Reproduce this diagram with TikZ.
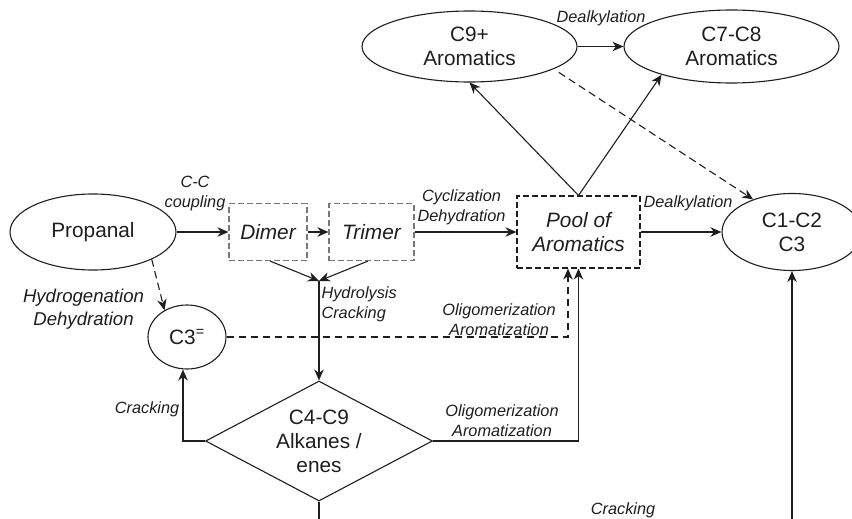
\documentclass[tikz,border=0pt]{standalone}
\usepackage{fontspec}
\setmainfont{Liberation Sans}
\usetikzlibrary{shapes.geometric,arrows.meta}
\definecolor{ink}{RGB}{30,30,30}
\definecolor{boxgray}{RGB}{120,120,120}
\begin{document}
\begin{tikzpicture}[x=1pt,y=-1pt,
  line width=1.1pt, draw=ink, text=ink,
  main/.style={font=\fontsize{20.8}{24}\selectfont, align=center, inner sep=0pt},
  oval/.style={main, draw=ink, ellipse},
  dbox/.style={draw=#1, dash pattern=on 6pt off 3pt, inner sep=0pt, align=center,
    font=\fontsize{20.8}{24}\selectfont\itshape},
  lbl/.style={font=\fontsize{16.3}{20}\selectfont\itshape, align=center, inner sep=0pt},
  biglbl/.style={font=\fontsize{18.6}{23}\selectfont\itshape, align=center, inner sep=0pt},
  arr/.style={-{Stealth[length=11pt,width=9.5pt,inset=3.5pt]}},
  dsh/.style={dash pattern=on 7.5pt off 4.5pt}
]
\useasboundingbox (0,0) rectangle (852,519);

% nodes
\node[oval, minimum width=166, minimum height=76] (prop) at (93,232) {Propanal};
\node[dbox=boxgray, minimum width=78, minimum height=57] (dimer) at (268,232) {Dimer};
\node[dbox=boxgray, minimum width=85, minimum height=57] (trimer) at (371.5,232) {Trimer};
\node[dbox=ink, minimum width=123, minimum height=72] (pool) at (578.5,232) {Pool of\\Aromatics};
\node[oval, minimum width=140, minimum height=77] (c123) at (792,232) {C1-C2\\C3};
\node[oval, minimum width=78, minimum height=64] (c3) at (187,337) {C3\textsuperscript{=}};
\node[oval, minimum width=215, minimum height=71] (c9) at (469.5,46.5) {C9+\\Aromatics};
\node[oval, minimum width=215, minimum height=73] (c78) at (731.5,46.5) {C7-C8\\Aromatics};
\node[main, draw=ink, shape=diamond, shape aspect=1.89, minimum width=227, minimum height=120] (dia) at (319,441) {C4-C9\\Alkanes /\\enes};

\coordinate (J) at (319,281);
\coordinate (bot1) at (319,519);
\coordinate (bot2) at (792,519);

% connectors
\draw[arr] (prop) -- (dimer);
\draw[arr] (dimer) -- (trimer);
\draw[arr] (trimer) -- (pool);
\draw[arr] (pool) -- (c123.west);
\draw[arr] (c9) -- (c78);
\draw[arr] (pool.north) -- (c9.south);
\draw[arr] (pool.north) -- (c78.-158);
\draw[arr, dsh, shorten <=6pt] (c9.-15) -- (c123.140);
\draw[arr, dsh] (prop.-25) -- (c3.130);
\draw[arr] ([xshift=2pt]dimer.south) -- (J);
\draw[arr] ([xshift=-3.5pt]trimer.south) -- (J);
\draw[arr] (J) -- (dia.north);
\draw[arr, dsh] (c3.east) -| ([xshift=-10.5pt]pool.south);
\draw[arr] (dia.west) -| ([xshift=-4pt]c3.south);
\draw[arr] (dia.east) -| (pool.south);
\draw (dia.south) -- (bot1);
\draw[arr] (bot2) -- (c123.south);

% labels
\node[lbl] (lcc) at (195,193) {C-C\\coupling};
\node[lbl] (lcyc) at (461.5,207) {Cyclization\\Dehydration};
\node[lbl] (ldeal1) at (688,203) {Dealkylation};
\node[lbl] (ldeal2) at (601,18) {Dealkylation};
\node[biglbl] (lhyd) at (83.5,309) {Hydrogenation\\Dehydration};
\node[lbl, align=left, anchor=west] (lhc) at (321,304) {Hydrolysis\\Cracking};
\node[lbl] (lolig1) at (499,320) {Oligomerization\\Aromatization};
\node[lbl] (lolig2) at (502,421) {Oligomerization\\Aromatization};
\node[lbl] (lcrack1) at (147,409) {Cracking};
\node[lbl] (lcrack2) at (623,510) {Cracking};
\end{tikzpicture}
\end{document}
